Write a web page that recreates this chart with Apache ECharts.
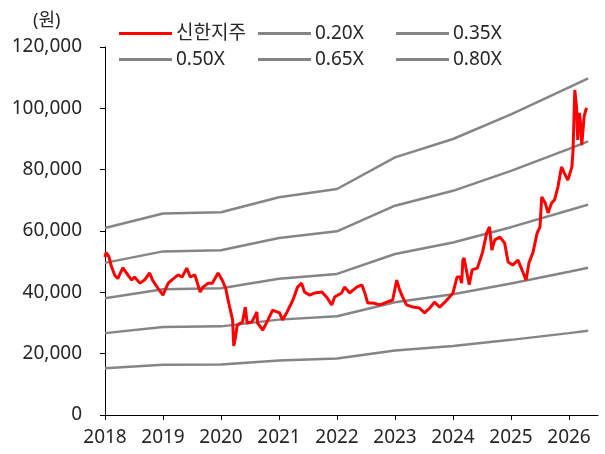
<!DOCTYPE html>
<html>
<head>
<meta charset="utf-8">
<script src="https://cdn.jsdelivr.net/npm/echarts@6/dist/echarts.min.js"></script>
<style>
html,body{margin:0;padding:0;background:#fff;}
#chart{width:605px;height:454px;}
</style>
</head>
<body>
<div id="chart"></div>
<script>
// ---- data (decimal years) ----
const seriesNames = ['신한지주', '0.20X', '0.35X', '0.50X', '0.65X', '0.80X'];
const yearTicks = [2018, 2019, 2020, 2021, 2022, 2023, 2024, 2025, 2026];

const priceDates = [2018.00,2018.02,2018.05,2018.07,2018.11,2018.17,2018.22,2018.27,2018.31,2018.37,
  2018.46,2018.51,2018.60,2018.68,2018.77,2018.82,2018.91,2019.00,2019.03,2019.09,
  2019.15,2019.26,2019.33,2019.41,2019.47,2019.55,2019.64,2019.69,2019.78,2019.85,
  2019.95,2020.02,2020.08,2020.13,2020.20,2020.22,2020.25,2020.28,2020.37,2020.42,
  2020.45,2020.53,2020.62,2020.63,2020.72,2020.81,2020.89,2021.01,2021.06,2021.14,
  2021.24,2021.32,2021.39,2021.44,2021.53,2021.62,2021.74,2021.83,2021.91,2021.96,
  2022.08,2022.13,2022.22,2022.34,2022.43,2022.48,2022.53,2022.62,2022.74,2022.86,
  2022.96,2023.03,2023.08,2023.13,2023.20,2023.31,2023.42,2023.51,2023.60,2023.68,
  2023.77,2023.86,2023.94,2024.00,2024.07,2024.12,2024.15,2024.17,2024.19,2024.24,
  2024.28,2024.33,2024.42,2024.51,2024.58,2024.63,2024.67,2024.72,2024.81,2024.89,
  2024.95,2025.03,2025.12,2025.19,2025.26,2025.31,2025.38,2025.45,2025.50,2025.53,
  2025.59,2025.64,2025.70,2025.75,2025.81,2025.87,2025.92,2025.98,2026.05,2026.07,
  2026.10,2026.13,2026.15,2026.18,2026.21,2026.22,2026.26,2026.29,2026.31];
const priceValues = [51500,53000,53500,51500,48500,45500,44500,46500,48000,46300,
  44000,45000,43000,44000,46300,44000,41400,39100,40500,43000,
  44000,45700,45000,47900,45000,45700,40100,41700,43000,43000,
  46300,44000,41400,36800,31000,22500,25400,29300,30300,35200,
  30000,30300,33600,30000,27700,31000,34200,33300,31000,33600,
  37500,41700,43000,40100,39100,39800,40100,38200,35900,38500,
  39800,41700,39800,41700,42400,39800,36500,36500,35900,36800,
  37500,44000,40800,38500,35900,35200,34900,33300,34900,36800,
  35200,36800,38500,39800,45000,45000,43000,50500,51200,46300,
  42500,47300,47900,53100,59300,61300,53800,57100,58000,56100,
  49900,48900,50500,47300,44000,49600,53100,59300,61300,71100,
  69100,65900,69100,70100,74400,80900,78900,76600,80900,86400,
  106000,100400,89700,98500,92900,88000,97200,99500,100100];

const bandDates = [2018.00,2019.00,2020.00,2021.00,2022.00,2023.00,2024.00,2025.00,2026.00,2026.33];
const band020 = [15250,16400,16500,17750,18400,21000,22500,24500,26700,27450];
const band035 = [26700,28700,28900,31100,32200,36750,39400,42900,46700,48000];
const band050 = [38100,41000,41300,44400,46000,52500,56250,61250,66750,68600];
const band065 = [49600,53350,53700,57700,59900,68250,73100,79600,86800,89200];
const band080 = [61000,65700,66100,71000,73700,84000,90000,98000,106800,109800];

// ---- build ----
function pairs(xs, ys){ return xs.map((x,i)=>[x, ys[i]]); }
const bandSets = [band020, band035, band050, band065, band080];
const GRAY = '#858585';
const RED = '#ff0000';
const TXT = '#262626';
const FONT = '"Noto Sans", "Noto Sans CJK KR", sans-serif';

const series = [];
bandSets.forEach((b, i) => {
  series.push({
    name: seriesNames[i+1], type: 'line', data: pairs(bandDates, b),
    showSymbol: false, symbol: 'none', smooth: false,
    lineStyle: { color: GRAY, width: 2.5 }, itemStyle: { color: GRAY },
    silent: true, z: 2
  });
});
series.push({
  name: seriesNames[0], type: 'line', data: pairs(priceDates, priceValues),
  showSymbol: false, symbol: 'none',
  lineStyle: { color: RED, width: 3 }, itemStyle: { color: RED },
  silent: true, z: 3
});

const legendPos = [
  {left: 119, top: 24}, {left: 258, top: 24}, {left: 396, top: 24},
  {left: 119, top: 50}, {left: 258, top: 50}, {left: 396, top: 50}
];
const legendOrder = ['신한지주', '0.20X', '0.35X', '0.50X', '0.65X', '0.80X'];
const legends = legendOrder.map((n, i) => ({
  data: [n], left: legendPos[i].left, top: legendPos[i].top,
  icon: 'rect', itemWidth: 53, itemHeight: 3, padding: 0,
  selectedMode: false,
  textStyle: { fontSize: 19, color: TXT, fontFamily: FONT, padding: [0,0,0,-1] }
}));

const chart = echarts.init(document.getElementById('chart'), null, {renderer: 'canvas'});
chart.setOption({
  animation: false,
  backgroundColor: '#fff',
  legend: legends,
  grid: { left: 105, right: 7, top: 47, bottom: 39 },
  graphic: [{
    type: 'text', left: 33, top: 12,
    style: { text: '(원)', fontSize: 18, fill: TXT, fontFamily: FONT }
  }],
  xAxis: {
    type: 'value', min: 2018, max: 2026.5, interval: 1,
    axisLine: { show: true, lineStyle: { color: '#000', width: 1 } },
    axisTick: { show: true, length: 5, lineStyle: { color: '#000' }, customValues: yearTicks },
    axisLabel: { customValues: yearTicks, fontSize: 19, color: TXT, fontFamily: FONT, margin: 13,
      formatter: v => String(v) },
    splitLine: { show: false }
  },
  yAxis: {
    type: 'value', min: 0, max: 120000, interval: 20000,
    axisLine: { show: true, lineStyle: { color: '#000', width: 1 } },
    axisTick: { show: true, length: 5, lineStyle: { color: '#000' } },
    axisLabel: { fontSize: 19, color: TXT, fontFamily: FONT, margin: 23,
      formatter: v => v.toLocaleString('en-US') },
    splitLine: { show: false }
  },
  series: series
});
</script>
</body>
</html>
